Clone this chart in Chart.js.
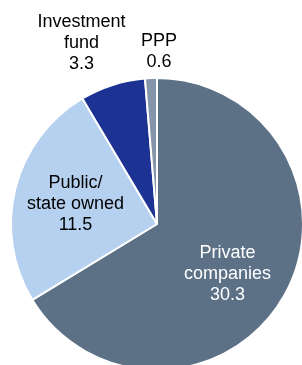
<!DOCTYPE html>
<html>
<head>
<meta charset="utf-8">
<script src="https://cdn.jsdelivr.net/npm/chart.js@4"></script>
<style>
  html, body { margin: 0; padding: 0; background: #fff; overflow: hidden; }
  #wrap { width: 302px; height: 365px; overflow: hidden; }
</style>
</head>
<body>
<div id="wrap"><canvas id="pieChart" width="310" height="375"></canvas></div>
<script>
const categories = ['Private companies', 'Public/ state owned', 'Investment fund', 'PPP'];
const labelLines = [['Private', 'companies'], ['Public/', 'state owned'], ['Investment', 'fund'], ['PPP']];
const values = [30.3, 11.5, 3.3, 0.6];
const colors = ['#5c7086', '#b5d1ef', '#1c3393', '#8596aa'];
const textColors = ['#ffffff', '#000000', '#000000', '#000000'];
// label centre relative to pie centre, in units of radius
const labelAnchors = [[0.483, 0.34], [-0.558, -0.136], [-0.517, -1.238], [0.014, -1.18]];

const labelPlugin = {
    id: 'sliceLabels',
    afterDraw(chart) {
        const ctx = chart.ctx;
        const arcs = chart.getDatasetMeta(0).data;
        ctx.save();
        ctx.font = '18px "Liberation Sans", Arial, sans-serif';
        ctx.textAlign = 'center';
        ctx.textBaseline = 'middle';
        arcs.forEach(function(arc, i) {
            const r = arc.outerRadius;
            const cx = arc.x + labelAnchors[i][0] * r;
            const cy = arc.y + labelAnchors[i][1] * r;
            const lines = labelLines[i].concat([values[i].toFixed(1)]);
            const lh = 21;
            const top = cy - (lines.length - 1) * lh / 2;
            ctx.fillStyle = textColors[i];
            lines.forEach(function(t, j) {
                ctx.fillText(t, cx, top + j * lh);
            });
        });
        ctx.restore();
    }
};

new Chart(document.getElementById('pieChart').getContext('2d'), {
    type: 'pie',
    data: {
        labels: categories,
        datasets: [{
            data: values,
            backgroundColor: colors,
            borderColor: '#ffffff',
            borderWidth: 2
        }]
    },
    options: {
        responsive: false,
        animation: false,
        layout: { padding: { top: 77, bottom: 4, left: 10, right: 6 } },
        plugins: {
            legend: { display: false },
            tooltip: { enabled: false }
        }
    },
    plugins: [labelPlugin]
});
</script>
</body>
</html>
